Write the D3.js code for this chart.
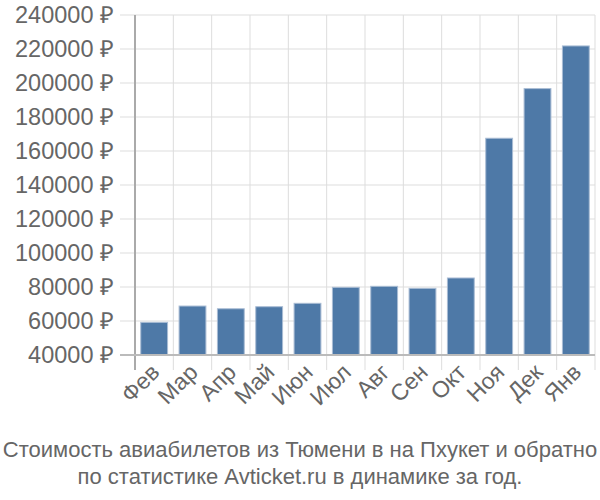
<!DOCTYPE html>
<html><head><meta charset="utf-8">
<script src="https://cdn.jsdelivr.net/npm/d3@7"></script>
<style>body{margin:0;background:#fff;}svg{display:block;font-family:"Liberation Sans",Arial,sans-serif;}</style>
</head><body>
<svg id="c" width="600" height="500"></svg>
<script>
const categories = ["Фев","Мар","Апр","Май","Июн","Июл","Авг","Сен","Окт","Ноя","Дек","Янв"];
const values = [59200, 68800, 67200, 68400, 70400, 79800, 80400, 79200, 85300, 167500, 196700, 221800];
const yTicks = [40000,60000,80000,100000,120000,140000,160000,180000,200000,220000,240000];
const titleLines = ["Стоимость авиабилетов из Тюмени в на Пхукет и обратно","по статистике Avticket.ru в динамике за год."];

const svg = d3.select("#c");
const L = 135, R = 595, T = 15, B = 355;
const x = d3.scaleBand().domain(categories).range([L, R]).paddingInner(0.3).paddingOuter(0.15);
const xg = d3.scaleBand().domain(categories).range([L, R]);
const y = d3.scaleLinear().domain([40000, 240000]).range([B, T]);

// vertical grid lines
svg.append("g").selectAll("line").data(categories).enter().append("line")
  .attr("x1", d => xg(d) + xg.bandwidth()).attr("x2", d => xg(d) + xg.bandwidth())
  .attr("y1", T).attr("y2", B + 15).attr("stroke", "#ddd").attr("stroke-width", 1);
// horizontal grid lines
svg.append("g").selectAll("line").data(yTicks).enter().append("line")
  .attr("x1", L - 15).attr("x2", R).attr("y1", d => y(d)).attr("y2", d => y(d))
  .attr("stroke", "#ddd").attr("stroke-width", 1);

// bars
svg.append("g").selectAll("rect").data(values).enter().append("rect")
  .attr("x", (d, i) => x(categories[i]))
  .attr("width", x.bandwidth())
  .attr("y", d => y(d))
  .attr("height", d => B - y(d))
  .attr("fill", "#4e79a7")
  .attr("stroke", "#a9bcd4").attr("stroke-width", 1);

// axes lines
svg.append("line").attr("x1", L).attr("x2", L).attr("y1", T).attr("y2", B + 15)
  .attr("stroke", "#aaa").attr("stroke-width", 2);
svg.append("line").attr("x1", L - 15).attr("x2", R).attr("y1", B).attr("y2", B)
  .attr("stroke", "#bbb").attr("stroke-width", 2);

// y labels
svg.append("g").selectAll("text").data(yTicks).enter().append("text")
  .attr("x", 114).attr("y", d => y(d)).attr("dy", "0.35em")
  .attr("text-anchor", "end").attr("fill", "#666").attr("font-size", 23.5)
  .text(d => d + " ₽");

// x labels
svg.append("g").selectAll("text").data(categories).enter().append("text")
  .attr("transform", d => `translate(${x(d) + x.bandwidth()/2 + 1},${B + 13}) rotate(-45)`)
  .attr("text-anchor", "end").attr("dy", "0.35em")
  .attr("fill", "#666").attr("font-size", 23)
  .text(d => d);

// title
svg.append("g").selectAll("text").data(titleLines).enter().append("text")
  .attr("x", 300).attr("y", (d, i) => 457 + i * 27)
  .attr("text-anchor", "middle").attr("fill", "#666").attr("font-size", 22)
  .text(d => d);
</script>
</body></html>
